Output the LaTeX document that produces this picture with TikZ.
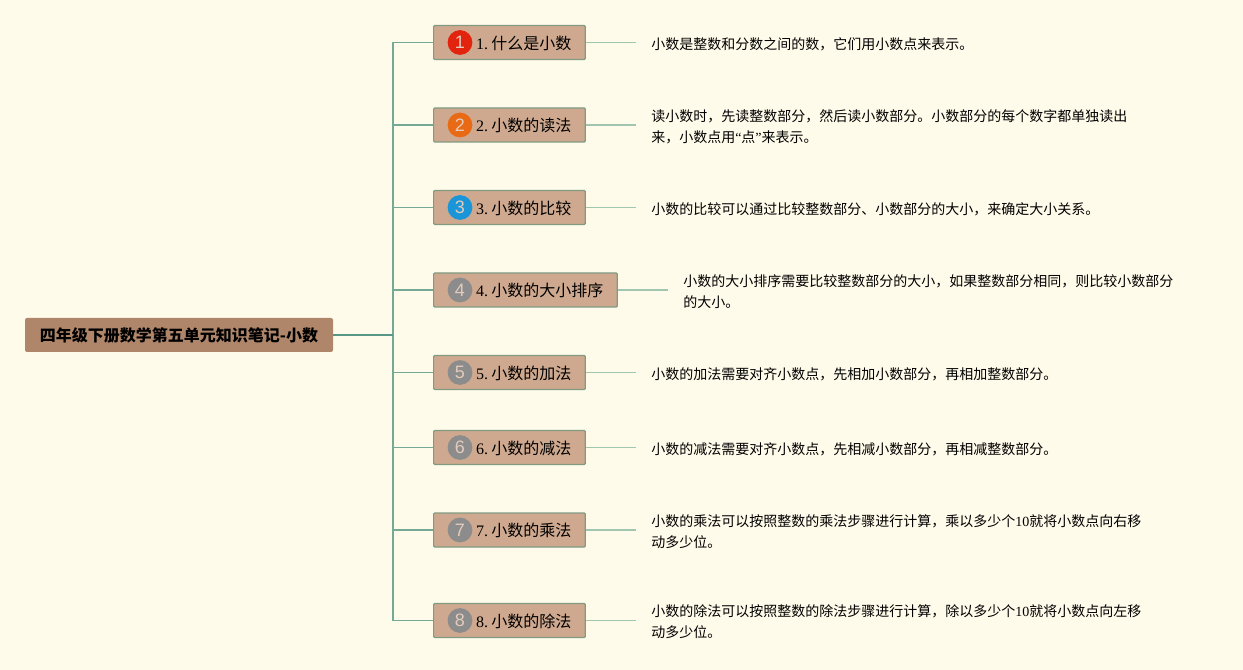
\documentclass[tikz,border=0pt]{standalone}
\usepackage{fontspec}
\setmainfont{Noto Sans CJK SC}
\newfontfamily\latfont{Liberation Serif}
\newfontfamily\numfont{Liberation Sans}
\usetikzlibrary{positioning}
\definecolor{paper}{RGB}{255,251,234}
\definecolor{rootfill}{RGB}{176,134,107}
\definecolor{topicfill}{RGB}{207,169,143}
\definecolor{topicline}{RGB}{128,155,130}
\definecolor{rootline}{RGB}{88,150,134}
\definecolor{trunkline}{RGB}{118,168,150}
\definecolor{sideline}{RGB}{160,198,175}
\definecolor{badgered}{RGB}{226,36,14}
\definecolor{badgeorange}{RGB}{232,106,20}
\definecolor{badgeblue}{RGB}{26,150,216}
\definecolor{badgegray}{RGB}{140,140,140}
\newcommand{\lat}[1]{{\latfont #1}}
\tikzset{
    rootbox/.style={rectangle,rounded corners=1.5pt,fill=rootfill,minimum height=25.5pt,inner xsep=11pt,inner ysep=0pt,font=\fontsize{12}{14}\selectfont\bfseries},
    topicbox/.style={rectangle,rounded corners=0.8pt,draw=topicline,line width=0.9pt,fill=topicfill,minimum height=25.5pt,text height=12pt,text depth=2pt,inner xsep=10.5pt,inner ysep=0pt,font=\fontsize{12}{14}\selectfont},
    badgenode/.style={circle,minimum size=18.6pt,inner sep=0pt,font=\numfont\fontsize{13.5}{14}\selectfont},
    notenode/.style={rectangle,inner xsep=11.25pt,inner ysep=0pt,align=left,font=\fontsize{10.5}{15.6}\selectfont},
    trunk/.style={draw=trunkline,line width=0.85pt},
    side/.style={draw=sideline,line width=0.85pt}
}
\begin{document}
\begin{tikzpicture}[x=0.75pt,y=-0.75pt]
    % Page
    \fill[paper] (0,0) rectangle (1243,670);
    \useasboundingbox (0,0) rectangle (1243,670);

    % Root
    \node[rootbox,minimum width=231pt] (root) at (179,335) {四年级下册数学第五单元知识笔记-小数};
    \coordinate (fork) at (393,335);

    % Topics
    \foreach \i/\y/\col/\title in {
        1/42.5/badgered/什么是小数,
        2/125/badgeorange/小数的读法,
        3/207.5/badgeblue/小数的比较,
        4/290/badgegray/小数的大小排序,
        5/372.5/badgegray/小数的加法,
        6/447.5/badgegray/小数的减法,
        7/530/badgegray/小数的乘法,
        8/620.5/badgegray/小数的除法} {
        \node[topicbox,anchor=west] (topic\i) at (433,\y) {\hspace{21.4pt}\lat{\i.}\hspace{2.4pt}\title};
        \node[badgenode,fill=\col,text=topicfill!60!white] (badge\i) at (460,\y) {\i};
        \draw[trunk] (fork) |- (topic\i.west);
    }
    \draw[draw=rootline,line width=1.1pt] (root.east) -- (fork);

    % Notes
    \node[notenode,anchor=west] (note1) at (636,44) {小数是整数和分数之间的数，它们用小数点来表示。};
    \node[notenode,anchor=west] (note2) at (636,127) {读小数时，先读整数部分，然后读小数部分。小数部分的每个数字都单独读出\\来，小数点用\lat{“}点\lat{”}来表示。};
    \node[notenode,anchor=west] (note3) at (636,209) {小数的比较可以通过比较整数部分、小数部分的大小，来确定大小关系。};
    \node[notenode,anchor=west] (note4) at (668,292) {小数的大小排序需要比较整数部分的大小，如果整数部分相同，则比较小数部分\\的大小。};
    \node[notenode,anchor=west] (note5) at (636,374.5) {小数的加法需要对齐小数点，先相加小数部分，再相加整数部分。};
    \node[notenode,anchor=west] (note6) at (636,449.5) {小数的减法需要对齐小数点，先相减小数部分，再相减整数部分。};
    \node[notenode,anchor=west] (note7) at (636,531.5) {小数的乘法可以按照整数的乘法步骤进行计算，乘以多少个\lat{10}就将小数点向右移\\动多少位。};
    \node[notenode,anchor=west] (note8) at (636,621.5) {小数的除法可以按照整数的除法步骤进行计算，除以多少个\lat{10}就将小数点向左移\\动多少位。};

    % Connections
    \foreach \i in {1,...,8} {
        \draw[side] (topic\i.east) -- (note\i.west |- topic\i.east);
    }
\end{tikzpicture}
\end{document}
